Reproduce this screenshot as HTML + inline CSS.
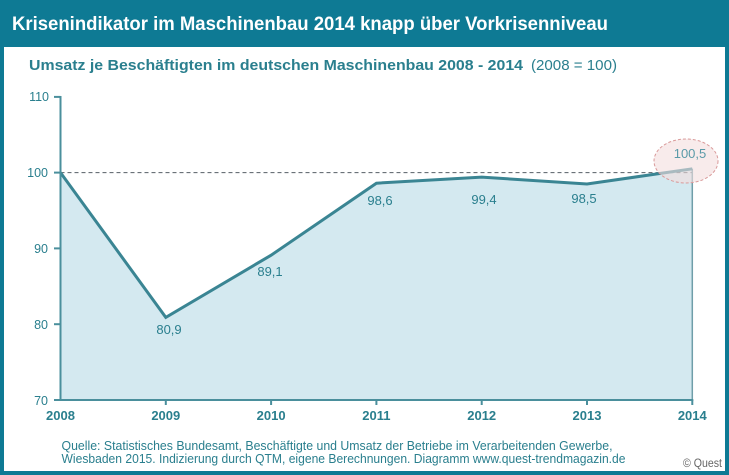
<!DOCTYPE html>
<html><head><meta charset="utf-8"><style>
html,body{margin:0;padding:0;background:#fff;}
svg{display:block;}
</style></head><body>
<svg width="729" height="475" viewBox="0 0 729 475" xmlns="http://www.w3.org/2000/svg" font-family="Liberation Sans, sans-serif">
<rect x="0" y="0" width="729" height="475" fill="#0e7a94"/>
<rect x="4" y="47" width="721" height="424" fill="#ffffff"/>
<text x="12" y="30" fill="#ffffff" font-size="19" font-weight="bold" textLength="596" lengthAdjust="spacingAndGlyphs">Krisenindikator im Maschinenbau 2014 knapp über Vorkrisenniveau</text>
<text x="29" y="70" fill="#2a7f8e" font-size="15" font-weight="bold" textLength="494" lengthAdjust="spacingAndGlyphs">Umsatz je Beschäftigten im deutschen Maschinenbau 2008 - 2014</text>
<text x="531" y="70" fill="#2a7f8e" font-size="15" textLength="86" lengthAdjust="spacingAndGlyphs">(2008 = 100)</text>

<polygon points="60.5,172.6 165.8,317.4 271.1,255.2 376.4,183.2 481.7,177.1 587,184 692.3,168.8 692.3,400 60.5,400" fill="#d4e9f0"/>
<line x1="60.5" y1="172.6" x2="692.3" y2="172.6" stroke="#555e66" stroke-width="1" stroke-dasharray="4,3"/>
<line x1="692.3" y1="168.8" x2="692.3" y2="400" stroke="#6f9ea9" stroke-width="1.5"/>
<polyline points="60.5,172.6 165.8,317.4 271.1,255.2 376.4,183.2 481.7,177.1 587,184 692.3,168.8" fill="none" stroke="#3a8593" stroke-width="3" stroke-linejoin="miter"/>

<g stroke="#4a8f9c" stroke-width="2">
<line x1="60.5" y1="96" x2="60.5" y2="401"/>
<line x1="59.5" y1="400" x2="693.3" y2="400"/>
<line x1="54" y1="96.9" x2="60.5" y2="96.9"/>
<line x1="54" y1="172.6" x2="60.5" y2="172.6"/>
<line x1="54" y1="248.4" x2="60.5" y2="248.4"/>
<line x1="54" y1="324.2" x2="60.5" y2="324.2"/>
<line x1="54" y1="400" x2="60.5" y2="400"/>
<line x1="165.8" y1="400" x2="165.8" y2="405"/>
<line x1="271.1" y1="400" x2="271.1" y2="405"/>
<line x1="376.4" y1="400" x2="376.4" y2="405"/>
<line x1="481.7" y1="400" x2="481.7" y2="405"/>
<line x1="587" y1="400" x2="587" y2="405"/>
<line x1="692.3" y1="400" x2="692.3" y2="405"/>
</g>

<g fill="#2a7f8e" font-size="12.5" text-anchor="end">
<text x="49" y="101">110</text>
<text x="48" y="177">100</text>
<text x="48" y="253">90</text>
<text x="48" y="329">80</text>
<text x="48" y="405">70</text>
</g>

<g fill="#2a7f8e" font-size="13" font-weight="bold" text-anchor="middle">
<text x="60.5" y="420">2008</text>
<text x="165.8" y="420">2009</text>
<text x="271.1" y="420">2010</text>
<text x="376.4" y="420">2011</text>
<text x="481.7" y="420">2012</text>
<text x="587" y="420">2013</text>
<text x="692.3" y="420">2014</text>
</g>

<ellipse cx="686" cy="161" rx="32" ry="22" fill="#f3dede" fill-opacity="0.6" stroke="#d99a9a" stroke-width="1" stroke-dasharray="3,2"/>

<g fill="#2a7f8e" font-size="13" text-anchor="middle">
<text x="169" y="334">80,9</text>
<text x="270" y="276">89,1</text>
<text x="380" y="205">98,6</text>
<text x="484" y="204">99,4</text>
<text x="584" y="203">98,5</text>
<text x="690" y="158" fill="#5a9aa8">100,5</text>
</g>

<g fill="#2a7f8e" font-size="12.5">
<text x="61.5" y="450" textLength="551" lengthAdjust="spacingAndGlyphs">Quelle: Statistisches Bundesamt, Beschäftigte und Umsatz der Betriebe im Verarbeitenden Gewerbe,</text>
<text x="61.5" y="463" textLength="564" lengthAdjust="spacingAndGlyphs">Wiesbaden 2015.  Indizierung durch QTM, eigene Berechnungen. Diagramm  www.quest-trendmagazin.de</text>
</g>
<text x="683" y="467" fill="#666" font-size="11.5" textLength="39" lengthAdjust="spacingAndGlyphs">© Quest</text>
</svg>
</body></html>
